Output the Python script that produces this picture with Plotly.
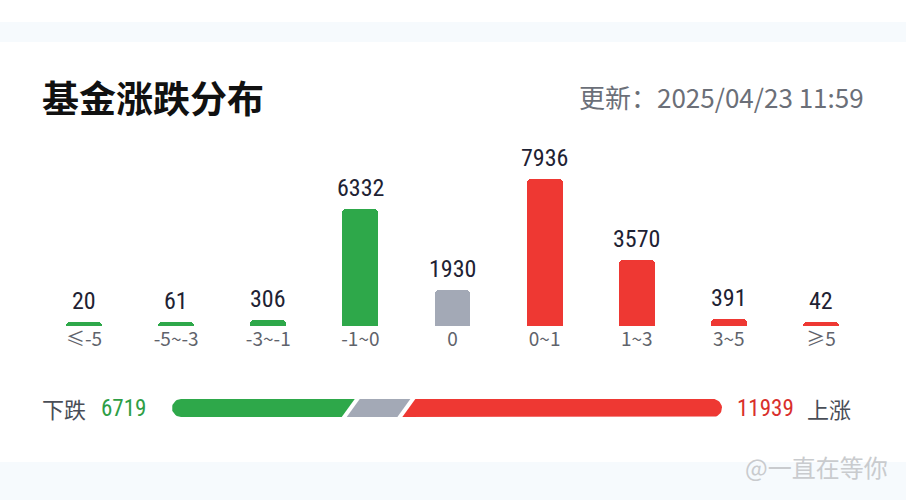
import numpy as np
import plotly.graph_objects as go

# ---------------- data ----------------
categories = ["≤-5", "-5~-3", "-3~-1", "-1~0", "0", "0~1", "1~3", "3~5", "≥5"]
counts = [20, 61, 306, 6332, 1930, 7936, 3570, 391, 42]
bar_colors = ["#2ea84a"] * 4 + ["#a3a9b6"] + ["#ee3833"] * 4
down_total = 6719
flat_total = 1930
up_total = 11939
title_text = "基金涨跌分布"
update_text = "更新：2025/04/23 11:59"

W, H = 906, 500

def px_x(p):
    return p / W

def px_y(p):
    return 1 - p / H

# ---------------- main bar axis geometry ----------------
base_px, top_px = 326, 140
px_per_unit = 147 / 7936.0
yrange_top = (base_px - top_px) / px_per_unit
min_disp = 230  # minimal visible bar height (in count units)
disp = np.maximum(np.array(counts, dtype=float), min_disp)
idx = list(range(len(categories)))

fig = go.Figure()
fig.add_trace(go.Bar(
    x=idx, y=disp, marker=dict(color=bar_colors, cornerradius=4, line=dict(width=0)),
    width=0.39, hoverinfo="skip", showlegend=False, xaxis="x", yaxis="y"))

for i, v, d in zip(idx, counts, disp):
    fig.add_annotation(x=i, y=d, xref="x", yref="y", text=str(v), showarrow=False,
                       yanchor="bottom", yshift=5,
                       font=dict(family="Roboto Condensed, DejaVu Sans Condensed, Liberation Sans Narrow, Roboto",
                                 size=24, color="#1e2233", weight=400))

# ---------------- bottom proportion bar ----------------
bar_l, bar_r = 172, 722
gap = 5.0
slant = 13.0
r = 9.0
usable = (bar_r - bar_l) - 2 * gap
tot = down_total + flat_total + up_total
wg = usable * down_total / tot
wf = usable * flat_total / tot
wr = usable * up_total / tot

t = np.linspace(np.pi / 2, 3 * np.pi / 2, 20)
gx = list(r + r * np.cos(t)) + [wg - slant / 2, wg + slant / 2]
gy = list(r * np.sin(t)) + [-r, r]
f0 = wg + gap
fx = [f0 - slant / 2, f0 + wf - slant / 2, f0 + wf + slant / 2, f0 + slant / 2]
fy = [-r, -r, r, r]
r0 = f0 + wf + gap
xe = bar_r - bar_l
t2 = np.linspace(-np.pi / 2, np.pi / 2, 20)
rx = [r0 - slant / 2] + list(xe - r + r * np.cos(t2)) + [r0 + slant / 2]
ry = [-r] + list(r * np.sin(t2)) + [r]

for xs, ys, col in [(gx, gy, "#2ea84a"), (fx, fy, "#a3a9b6"), (rx, ry, "#ee3833")]:
    fig.add_trace(go.Scatter(x=xs, y=ys, fill="toself", fillcolor=col, mode="lines",
                             line=dict(width=0, color=col), hoverinfo="skip",
                             showlegend=False, xaxis="x2", yaxis="y2"))

# ---------------- layout ----------------
fig.update_layout(
    width=W, height=H, margin=dict(l=0, r=0, t=0, b=0),
    paper_bgcolor="white", plot_bgcolor="rgba(0,0,0,0)",
    bargap=0,
    xaxis=dict(domain=[px_x(38), px_x(867)], range=[-0.5, 8.5],
               tickmode="array", tickvals=idx, ticktext=categories,
               showgrid=False, zeroline=False, showline=False, ticks="",
               tickfont=dict(family="Noto Sans CJK SC, Roboto", size=19, color="#5f636b"),
               automargin=False, fixedrange=True),
    yaxis=dict(domain=[px_y(base_px), px_y(top_px)], range=[0, yrange_top],
               visible=False, fixedrange=True),
    xaxis2=dict(domain=[px_x(bar_l), px_x(bar_r)], range=[0, bar_r - bar_l],
                visible=False, anchor="y2", fixedrange=True),
    yaxis2=dict(domain=[px_y(408 + r), px_y(408 - r)], range=[-r, r],
                visible=False, anchor="x2", fixedrange=True),
)

# background bands
fig.add_shape(type="rect", xref="paper", yref="paper", x0=0, x1=1, y0=px_y(42), y1=px_y(22),
              fillcolor="#f6fafd", line=dict(width=0), layer="below")
fig.add_shape(type="rect", xref="paper", yref="paper", x0=0, x1=1, y0=0, y1=px_y(462),
              fillcolor="#f6fafd", line=dict(width=0), layer="below")

# texts
fig.add_annotation(x=px_x(40), y=px_y(97), xref="paper", yref="paper", text=title_text,
                   showarrow=False, xanchor="left", yanchor="middle",
                   font=dict(family="Noto Sans CJK SC", size=37, color="#111111", weight="bold"))
fig.add_annotation(x=px_x(866), y=px_y(97), xref="paper", yref="paper", text=update_text,
                   showarrow=False, xanchor="right", yanchor="middle",
                   font=dict(family="Noto Sans CJK SC", size=26, color="#6b6f78"))

fig.add_annotation(x=px_x(40), y=px_y(408), xref="paper", yref="paper", text="下跌",
                   showarrow=False, xanchor="left", yanchor="middle",
                   font=dict(family="Noto Sans CJK SC", size=22, color="#4a4e57"))
fig.add_annotation(x=px_x(99), y=px_y(408), xref="paper", yref="paper", text=str(down_total),
                   showarrow=False, xanchor="left", yanchor="middle",
                   font=dict(family="Roboto Condensed, DejaVu Sans Condensed, Roboto", size=23,
                             color="#2e9e46", weight=400))
fig.add_annotation(x=px_x(796), y=px_y(408), xref="paper", yref="paper", text=str(up_total),
                   showarrow=False, xanchor="right", yanchor="middle",
                   font=dict(family="Roboto Condensed, DejaVu Sans Condensed, Roboto", size=23,
                             color="#d9302c", weight=400))
fig.add_annotation(x=px_x(805), y=px_y(408), xref="paper", yref="paper", text="上涨",
                   showarrow=False, xanchor="left", yanchor="middle",
                   font=dict(family="Noto Sans CJK SC", size=22, color="#4a4e57"))

fig.add_annotation(x=px_x(890), y=px_y(466), xref="paper", yref="paper", text="@一直在等你",
                   showarrow=False, xanchor="right", yanchor="middle",
                   font=dict(family="Noto Sans CJK SC", size=24, color="#c9cbce"))

fig.write_html("out.html", config={"displayModeBar": False},
               post_script="document.body.style.margin='0';")
